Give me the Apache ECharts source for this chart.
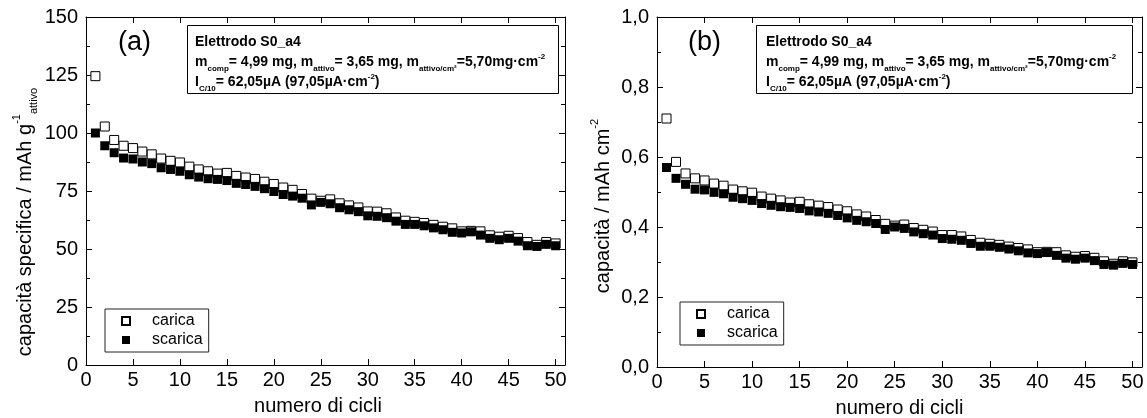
<!DOCTYPE html>
<html><head><meta charset="utf-8">
<script src="https://cdn.jsdelivr.net/npm/echarts/dist/echarts.min.js"></script>
<style>html,body{margin:0;padding:0;background:#fff}#c{width:1147px;height:418px}</style>
</head><body><div id="c"></div>
<script>
const cycles = [1,2,3,4,5,6,7,8,9,10,11,12,13,14,15,16,17,18,19,20,21,22,23,24,25,26,27,28,29,30,31,32,33,34,35,36,37,38,39,40,41,42,43,44,45,46,47,48,49,50];
const xTickValues = [0,5,10,15,20,25,30,35,40,45,50];
const caricaSpec = [124.5,102.8,97.0,94.5,93.5,92.0,90.8,89.0,88.0,87.3,85.5,84.3,83.5,82.5,82.8,81.5,80.8,80.2,79.0,78.0,76.5,75.5,73.7,71.7,70.8,71.4,69.7,68.8,67.9,66.2,66.1,65.4,63.6,62.2,61.7,61.2,60.4,59.6,58.9,57.6,57.8,57.6,55.9,55.3,55.7,54.7,53.0,51.8,53.0,52.4];
const scaricaSpec = [100.0,94.5,91.5,89.2,88.8,87.5,86.8,85.0,84.3,83.5,82.0,81.0,80.3,80.0,79.5,78.3,77.8,77.0,76.0,74.8,73.5,72.8,71.9,69.0,70.1,69.5,67.8,66.9,66.1,64.3,64.1,63.5,62.0,60.6,60.6,60.0,59.1,58.3,57.2,56.9,57.4,56.0,54.6,54.0,54.6,53.4,51.4,51.1,52.0,51.4];
const caricaArea = [0.710,0.586,0.553,0.539,0.533,0.524,0.518,0.507,0.502,0.498,0.487,0.481,0.476,0.470,0.472,0.465,0.461,0.457,0.450,0.445,0.436,0.430,0.420,0.409,0.404,0.407,0.397,0.392,0.387,0.377,0.377,0.373,0.363,0.355,0.352,0.349,0.344,0.340,0.336,0.328,0.329,0.328,0.319,0.315,0.317,0.312,0.302,0.295,0.302,0.299];
const scaricaArea = [0.570,0.539,0.522,0.508,0.506,0.499,0.495,0.485,0.481,0.476,0.467,0.462,0.458,0.456,0.453,0.446,0.443,0.439,0.433,0.426,0.419,0.415,0.410,0.393,0.400,0.396,0.386,0.381,0.377,0.367,0.365,0.362,0.353,0.345,0.345,0.342,0.337,0.332,0.326,0.324,0.327,0.319,0.311,0.308,0.311,0.304,0.293,0.291,0.296,0.293];
const boxText = 'Elettrodo S0_a4\nm{sub|comp}= 4,99 mg, m{sub|attivo}= 3,65 mg, m{sub|attivo/cm²}=5,70mg·cm{sup|-2}\nI{sub|C/10}= 62,05µA (97,05µA·cm{sup|-2})';

const FF = '"Liberation Sans", Arial, Helvetica, sans-serif';
const black = '#000';

function xAx(grid, bottom, showName, namePad) {
  return {
    type: 'value', gridIndex: grid, position: bottom ? 'bottom' : 'top',
    min: 0, max: 51, interval: 5,
    axisLine: {show: true, onZero: false, lineStyle: {color: black, width: 1}},
    axisTick: {show: true, inside: true, length: 6, lineStyle: {color: black, width: 1}},
    axisLabel: {show: bottom, color: black, fontSize: 20, fontFamily: FF, margin: 5,
      formatter: v => (xTickValues.indexOf(v) >= 0 ? String(v) : '')},
    splitLine: {show: false},
    name: showName ? 'numero di cicli' : '', nameLocation: 'middle', nameGap: 31,
    nameTextStyle: {color: black, fontSize: 20, fontFamily: FF, padding: namePad}
  };
}
function yAx(grid, left, max, interval, fmt, name, nameGap, namePad) {
  return {
    type: 'value', gridIndex: grid, position: left ? 'left' : 'right',
    min: 0, max: max, interval: interval,
    axisLine: {show: true, onZero: false, lineStyle: {color: black, width: 1}},
    axisTick: {show: true, inside: true, length: 6, lineStyle: {color: black, width: 1}},
    minorTick: {show: true, splitNumber: 2, length: 4, lineStyle: {color: black, width: 1}},
    axisLabel: {show: left, color: black, fontSize: 20, fontFamily: FF, margin: 8, formatter: fmt},
    splitLine: {show: false}, minorSplitLine: {show: false},
    name: left ? name : '', nameLocation: 'middle', nameGap: nameGap,
    nameTextStyle: {color: black, fontSize: 20, fontFamily: FF, lineHeight: 28, padding: namePad,
      rich: {
        sup: {fontSize: 11, fontFamily: FF, color: black, verticalAlign: 'top', lineHeight: 18},
        sub: {fontSize: 11, fontFamily: FF, color: black, verticalAlign: 'bottom', lineHeight: 8}
      }}
  };
}
const boxRich = {
  sub: {fontSize: 8, fontWeight: 'bold', fontFamily: FF, color: black, verticalAlign: 'bottom', lineHeight: 9},
  sup: {fontSize: 8, fontWeight: 'bold', fontFamily: FF, color: black, verticalAlign: 'top', lineHeight: 8}
};
function boxTitle(left) {
  return {text: boxText, left: left, top: 32.5, padding: 0,
    textStyle: {fontSize: 14, fontWeight: 'bold', fontFamily: FF, color: black, lineHeight: 20, rich: boxRich}};
}
function legend(left, top) {
  return {data: ['carica', 'scarica'], left: left, top: top, orient: 'vertical', icon: 'rect',
    itemWidth: 8, itemHeight: 8, itemGap: 3, padding: [4, 6, 4, 16],
    borderColor: '#222', borderWidth: 1, backgroundColor: '#fff',
    textStyle: {color: black, fontSize: 16, fontFamily: FF, lineHeight: 16, padding: [0, 0, 0, 17]},
    selectedMode: false};
}
function pts(vals) { return cycles.map((c, i) => [c, vals[i]]); }
function scat(name, xi, yi, vals, open) {
  return {type: 'scatter', name: name, xAxisIndex: xi, yAxisIndex: yi, data: pts(vals),
    symbol: 'rect', symbolSize: 9, z: open ? 2 : 3, animation: false,
    itemStyle: open ? {color: '#fff', borderColor: black, borderWidth: 1, opacity: 1} : {color: black, opacity: 1}};
}
const fmtComma = v => v.toFixed(1).replace('.', ',');

const option = {
  backgroundColor: '#fff',
  animation: false,
  grid: [
    {left: 86, top: 17, width: 479, height: 348, outerBoundsMode: 'none'},
    {left: 657, top: 17, width: 485, height: 350, outerBoundsMode: 'none'}
  ],
  xAxis: [xAx(0, true, true, [0, 15, 0, 0]), xAx(0, false, false), xAx(1, true, true, [0, 0, 0, 0]), xAx(1, false, false)],
  yAxis: [
    yAx(0, true, 150, 25, v => String(v), 'capacità specifica / mAh g{sup|-1}{sub|attivo}', 47, [0, 62, 0, 0]),
    yAx(0, false, 150, 25),
    yAx(1, true, 1, 0.2, fmtComma, 'capacità / mAh cm{sup|-2}', 36, [0, 28, 0, 0]),
    yAx(1, false, 1, 0.2)
  ],
  legend: [legend(105, 309), legend(680, 302)],
  title: [
    {text: '(a)', left: 118, top: 28, padding: 0, textStyle: {fontSize: 27, fontWeight: 'normal', fontFamily: FF, color: black, lineHeight: 30}},
    {text: '(b)', left: 688, top: 28, padding: 0, textStyle: {fontSize: 27, fontWeight: 'normal', fontFamily: FF, color: black, lineHeight: 30}},
    boxTitle(195), boxTitle(766)
  ],
  graphic: [
    {type: 'rect', z: -1, shape: {x: 187.5, y: 25.5, width: 371, height: 68}, style: {fill: '#fff', stroke: black, lineWidth: 1}},
    {type: 'rect', z: -1, shape: {x: 756.5, y: 25.5, width: 376, height: 68}, style: {fill: '#fff', stroke: black, lineWidth: 1}}
  ],
  series: [
    scat('carica', 0, 0, caricaSpec, true), scat('scarica', 0, 0, scaricaSpec, false),
    scat('carica', 2, 2, caricaArea, true), scat('scarica', 2, 2, scaricaArea, false)
  ]
};
const chart = echarts.init(document.getElementById('c'), null, {renderer: 'canvas'});
chart.setOption(option);
</script>
</body></html>
